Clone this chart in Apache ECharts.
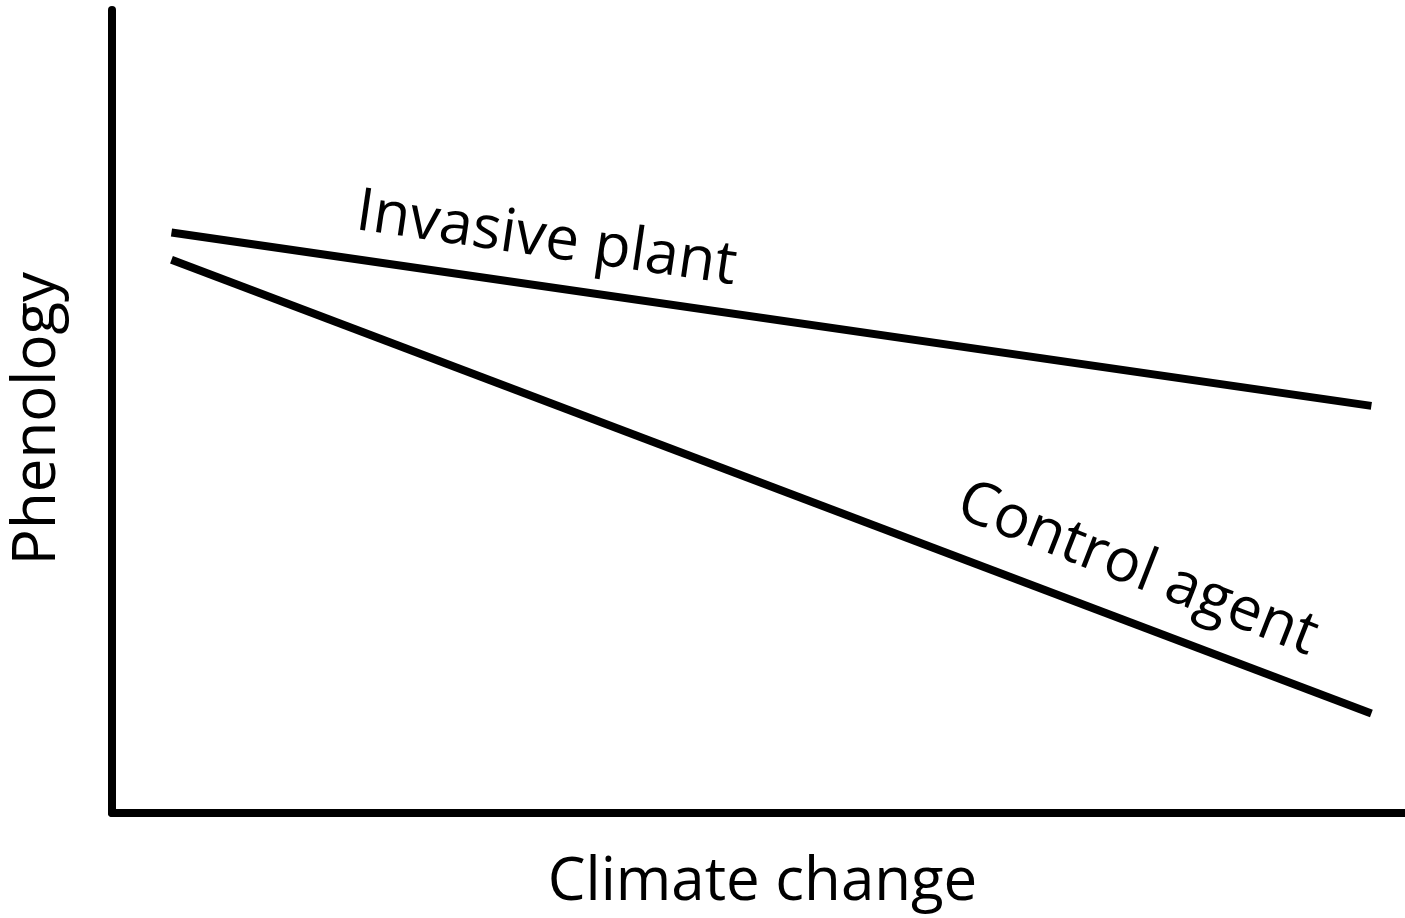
<!DOCTYPE html>
<html>
<head>
<meta charset="utf-8">
<script src="https://cdn.jsdelivr.net/npm/echarts@6/dist/echarts.min.js"></script>
<style>
  html, body { margin: 0; padding: 0; background: #fff; }
  #chart { width: 1405px; height: 918px; }
</style>
</head>
<body>
<div id="chart"></div>
<script>
// conceptual chart, values are in a 0-100 space
var climate = [4.6, 97.4];
var invasivePlant = [72.3, 50.7];
var controlAgent = [68.9, 12.4];

var seriesNames = ['Invasive plant', 'Control agent'];
// where each line label sits, in data units, and its tilt in degrees
var labelAt = [[33.6, 71.4], [79.3, 30.3]];
var labelTilt = [8.3, 21.5];

var font = '"Open Sans", "Noto Sans", sans-serif';

function pairs(xs, ys) {
  return xs.map(function (x, i) { return [x, ys[i]]; });
}

var chart = echarts.init(document.getElementById('chart'));

var option = {
  animation: false,
  backgroundColor: '#fff',
  grid: { left: 112, right: 0, top: 10, bottom: 103 },
  xAxis: {
    type: 'value', min: 0, max: 100,
    name: 'Climate change', nameLocation: 'middle', nameGap: 40,
    nameTextStyle: { color: '#000', fontSize: 60, fontFamily: font, padding: [0, 0, 0, 8] },
    axisLine: { show: true, lineStyle: { color: '#000', width: 8 } },
    axisTick: { show: false }, axisLabel: { show: false }, splitLine: { show: false }
  },
  yAxis: {
    type: 'value', min: 0, max: 100,
    name: 'Phenology', nameLocation: 'middle', nameGap: 44, nameRotate: 90,
    nameTextStyle: { color: '#000', fontSize: 60, fontFamily: font, padding: [0, 14, 0, 0] },
    axisLine: { show: true, lineStyle: { color: '#000', width: 8 } },
    axisTick: { show: false }, axisLabel: { show: false }, splitLine: { show: false }
  },
  series: [
    {
      name: seriesNames[0], type: 'line', data: pairs(climate, invasivePlant),
      symbol: 'none', lineStyle: { color: '#000', width: 8 }
    },
    {
      name: seriesNames[1], type: 'line', data: pairs(climate, controlAgent),
      symbol: 'none', lineStyle: { color: '#000', width: 8 }
    }
  ]
};

chart.setOption(option);

// put the rotated line labels on via the grid's own coords
var texts = seriesNames.map(function (name, i) {
  var p = chart.convertToPixel({ gridIndex: 0 }, labelAt[i]);
  return {
    type: 'text',
    x: p[0], y: p[1],
    rotation: -labelTilt[i] * Math.PI / 180,
    style: {
      text: name, fill: '#000', fontSize: 60, fontFamily: font,
      align: 'center', verticalAlign: 'middle'
    }
  };
});
chart.setOption({ graphic: texts });
</script>
</body>
</html>
